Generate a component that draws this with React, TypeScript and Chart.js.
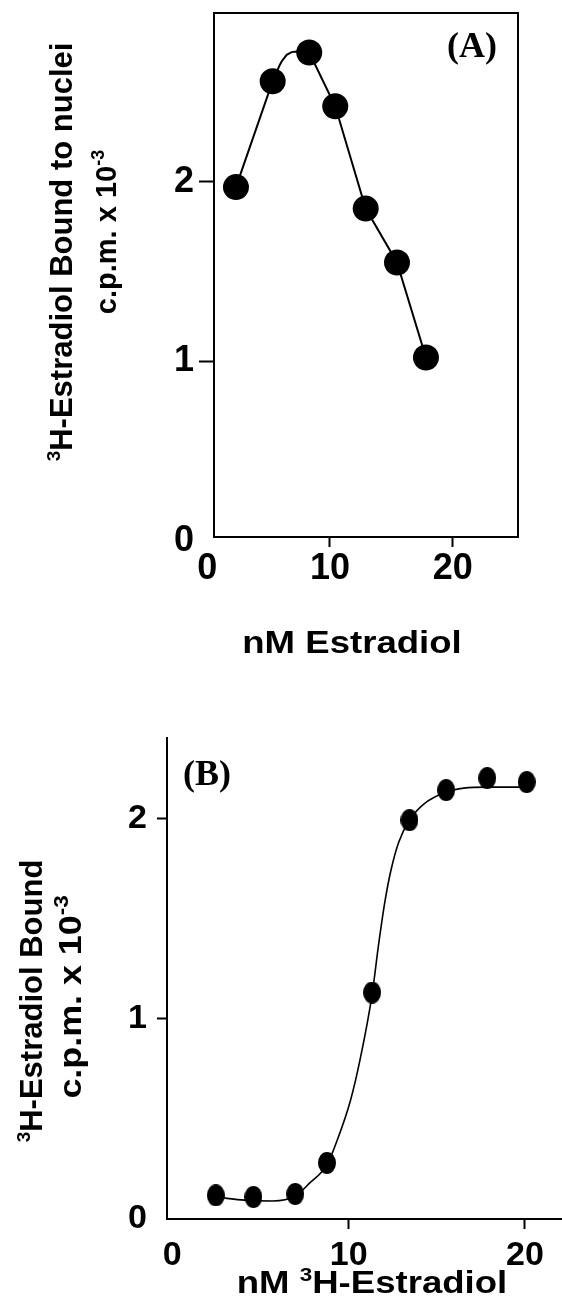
import React, { useEffect, useRef } from 'react';
import { Chart, registerables } from 'chart.js';

Chart.register(...registerables);

// ---------- Panel A data ----------
const A_CONC = [2.34, 5.33, 8.31, 10.43, 12.91, 15.46, 17.82];
const A_BOUND = [1.97, 2.56, 2.72, 2.42, 1.85, 1.55, 1.02];
// connecting line as drawn in the figure (incl. the rounded bend near the peak)
const A_LINE_X = [2.34, 5.33, 5.92, 6.06, 6.47, 6.88, 7.28, 8.31, 10.43, 12.91, 15.46, 17.82];
const A_LINE_Y = [1.97, 2.56, 2.652, 2.67, 2.707, 2.722, 2.725, 2.72, 2.42, 1.85, 1.55, 1.02];
const A_X_TICKS = [0, 10, 20];
const A_Y_TICKS = [0, 1, 2];

// ---------- Panel B data ----------
const B_CONC = [2.47, 4.6, 6.97, 8.77, 11.33, 13.45, 15.53, 17.86, 20.1];
const B_BOUND = [0.118, 0.11, 0.125, 0.28, 1.13, 1.99, 2.14, 2.2, 2.18];
const B_FIT_X = [2.47, 3.1, 4.6, 5.7, 6.97, 7.8, 8.77, 9.34, 10.1, 10.66, 11.33, 11.7, 12.05, 12.4, 12.84, 13.45, 14.26, 15.53, 16.53, 17.86, 20.1];
const B_FIT_Y = [0.115, 0.103, 0.092, 0.09, 0.115, 0.18, 0.27, 0.39, 0.59, 0.8, 1.12, 1.37, 1.58, 1.74, 1.88, 1.99, 2.07, 2.13, 2.15, 2.155, 2.155];
const B_X_TICKS = [0, 10, 20];
const B_Y_TICKS = [0, 1, 2];

const SANS = '"Liberation Sans", Arial, Helvetica, sans-serif';
const SERIF = '"Liberation Serif", "Times New Roman", serif';

type Seg = { t: string; sup?: boolean };
type TextSpec = {
  segs: Seg[];
  x: number;
  y: number;
  size: number;
  family: string;
  stretch?: number;
  rotate?: boolean;
};

function drawRich(ctx: CanvasRenderingContext2D, spec: TextSpec) {
  const { segs, x, y, size, family } = spec;
  const stretch = spec.stretch ?? 1;
  ctx.save();
  ctx.translate(x, y);
  if (spec.rotate) ctx.rotate(-Math.PI / 2);
  ctx.scale(stretch, 1);
  ctx.fillStyle = '#000';
  ctx.textAlign = 'left';
  ctx.textBaseline = 'alphabetic';
  const fontFor = (s: Seg) => `bold ${s.sup ? Math.round(size * 0.62) : size}px ${family}`;
  const widths = segs.map((s) => {
    ctx.font = fontFor(s);
    return ctx.measureText(s.t).width;
  });
  const total = widths.reduce((a, b) => a + b, 0);
  let cx = -total / 2;
  segs.forEach((s, i) => {
    ctx.font = fontFor(s);
    ctx.fillText(s.t, cx, s.sup ? -size * 0.4 : 0);
    cx += widths[i];
  });
  ctx.restore();
}

function textPlugin(id: string, texts: TextSpec[], box: boolean) {
  return {
    id,
    afterDraw(chart: any) {
      const ctx = chart.ctx as CanvasRenderingContext2D;
      if (box) {
        const a = chart.chartArea;
        ctx.save();
        ctx.strokeStyle = '#000';
        ctx.lineWidth = 2;
        ctx.strokeRect(a.left, a.top, a.right - a.left, a.bottom - a.top);
        ctx.restore();
      }
      texts.forEach((t) => drawRich(ctx, t));
    },
  };
}

const hideZero = (c: any) => (c.tick && c.tick.value === 0 ? 'rgba(0,0,0,0)' : '#000');

function axis(opts: {
  min: number;
  max: number;
  ticks: number[];
  size: number;
  tickLength: number;
  padding: number;
  horizontal: boolean;
  extent: number;
}) {
  return {
    type: 'linear' as const,
    min: opts.min,
    max: opts.max,
    afterBuildTicks: (s: any) => {
      s.ticks = opts.ticks.map((v) => ({ value: v }));
    },
    afterFit: (s: any) => {
      if (opts.horizontal) {
        s.height = opts.extent;
        s.paddingLeft = 0;
        s.paddingRight = 0;
      } else {
        s.width = opts.extent;
        s.paddingTop = 0;
        s.paddingBottom = 0;
      }
    },
    border: { display: true, color: '#000', width: 2 },
    grid: {
      display: true,
      drawOnChartArea: false,
      drawTicks: true,
      tickLength: opts.tickLength,
      tickWidth: 2,
      tickColor: hideZero,
    },
    ticks: {
      color: '#000',
      padding: opts.padding,
      autoSkip: false,
      maxRotation: 0,
      minRotation: 0,
      font: { family: SANS, size: opts.size, weight: 'bold' as const },
      callback: (v: any) => String(v),
    },
  };
}

function makeEllipse(w: number, h: number) {
  const c = document.createElement('canvas');
  c.width = w;
  c.height = h;
  const g = c.getContext('2d')!;
  g.fillStyle = '#000';
  g.beginPath();
  g.ellipse(w / 2, h / 2, w / 2, h / 2, 0, 0, Math.PI * 2);
  g.fill();
  return c;
}

export default function App() {
  const refA = useRef<HTMLCanvasElement>(null);
  const refB = useRef<HTMLCanvasElement>(null);

  useEffect(() => {
    document.body.style.margin = '0';
    const textsA: TextSpec[] = [
      { segs: [{ t: '3', sup: true }, { t: 'H-Estradiol Bound to nuclei' }], x: 72, y: 252, size: 31, family: SANS, rotate: true },
      { segs: [{ t: 'c.p.m. x 10' }, { t: '-3', sup: true }], x: 116, y: 232, size: 29, family: SANS, rotate: true },
      { segs: [{ t: 'nM Estradiol' }], x: 352, y: 653, size: 31, family: SANS, stretch: 1.18 },
      { segs: [{ t: '(A)' }], x: 472, y: 57, size: 36, family: SERIF },
    ];
    const textsB: TextSpec[] = [
      { segs: [{ t: '3', sup: true }, { t: 'H-Estradiol Bound' }], x: 42, y: 301, size: 31, family: SANS, rotate: true },
      { segs: [{ t: 'c.p.m. x 10' }, { t: '-3', sup: true }], x: 81, y: 297, size: 32, family: SANS, rotate: true, stretch: 1.12 },
      { segs: [{ t: 'nM ' }, { t: '3', sup: true }, { t: 'H-Estradiol' }], x: 372, y: 593, size: 31, family: SANS, stretch: 1.18 },
      { segs: [{ t: '(B)' }], x: 207, y: 85, size: 36, family: SERIF },
    ];

    const chartA = new Chart(refA.current!, {
      type: 'line',
      data: {
        datasets: [
          {
            data: A_CONC.map((x, i) => ({ x, y: A_BOUND[i] })),
            showLine: false,
            pointRadius: 13,
            pointBackgroundColor: '#000',
            pointBorderWidth: 0,
            borderColor: '#000',
            clip: false,
          } as any,
          {
            data: A_LINE_X.map((x, i) => ({ x, y: A_LINE_Y[i] })),
            borderColor: '#000',
            borderWidth: 2,
            tension: 0,
            pointRadius: 0,
            fill: false,
            clip: false,
          } as any,
        ],
      },
      options: {
        animation: false,
        responsive: false,
        maintainAspectRatio: false,
        devicePixelRatio: 1,
        layout: { autoPadding: false, padding: { left: 0, right: 44, top: 13, bottom: 0 } },
        plugins: { legend: { display: false }, tooltip: { enabled: false } },
        scales: {
          x: axis({ min: 0.55, max: 25.32, ticks: A_X_TICKS, size: 36, tickLength: 10, padding: 0, horizontal: true, extent: 163 }),
          y: axis({ min: 0.02, max: 2.94, ticks: A_Y_TICKS, size: 36, tickLength: 15, padding: 5, horizontal: false, extent: 214 }),
        },
      } as any,
      plugins: [textPlugin('textA', textsA, true)],
    });

    const ellipse = makeEllipse(18, 22);
    const chartB = new Chart(refB.current!, {
      type: 'line',
      data: {
        datasets: [
          {
            data: B_CONC.map((x, i) => ({ x, y: B_BOUND[i] })),
            showLine: false,
            pointStyle: ellipse,
            pointRadius: 11,
            pointBackgroundColor: '#000',
            borderColor: '#000',
            clip: false,
          } as any,
          {
            data: B_FIT_X.map((x, i) => ({ x, y: B_FIT_Y[i] })),
            borderColor: '#000',
            borderWidth: 1.6,
            pointRadius: 0,
            cubicInterpolationMode: 'monotone',
            fill: false,
            clip: false,
          } as any,
        ],
      },
      options: {
        animation: false,
        responsive: false,
        maintainAspectRatio: false,
        devicePixelRatio: 1,
        layout: { autoPadding: false, padding: { left: 0, right: 0, top: 38, bottom: 0 } },
        plugins: { legend: { display: false }, tooltip: { enabled: false } },
        scales: {
          x: axis({ min: -0.3, max: 22.1, ticks: B_X_TICKS, size: 34, tickLength: 10, padding: 6, horizontal: true, extent: 97 }),
          y: axis({ min: 0, max: 2.4, ticks: B_Y_TICKS, size: 34, tickLength: 10, padding: 10, horizontal: false, extent: 167 }),
        },
      } as any,
      plugins: [textPlugin('textB', textsB, false)],
    });

    return () => {
      chartA.destroy();
      chartB.destroy();
    };
  }, []);

  return (
    <div style={{ position: 'absolute', left: 0, top: 0, width: 562, height: 1316, background: '#fff' }}>
      <canvas ref={refA} width={562} height={700} style={{ position: 'absolute', left: 0, top: 0, width: 562, height: 700 }} />
      <canvas ref={refB} width={562} height={616} style={{ position: 'absolute', left: 0, top: 700, width: 562, height: 616 }} />
    </div>
  );
}
